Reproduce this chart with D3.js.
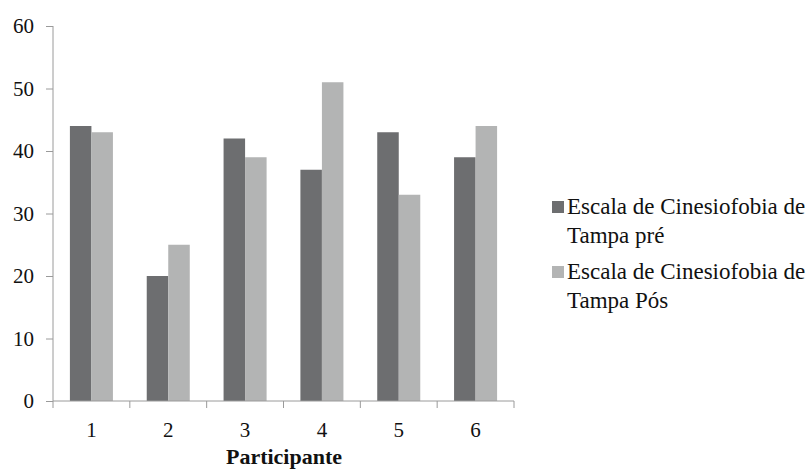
<!DOCTYPE html>
<html><head><meta charset="utf-8">
<script src="https://cdn.jsdelivr.net/npm/d3@7"></script>
<style>body{margin:0;background:#fff}svg{display:block}</style>
</head><body><svg id="c" width="810" height="470"></svg>
<script>
const categories = ["1","2","3","4","5","6"];
const seriesNames = ["Escala de Cinesiofobia de Tampa pré","Escala de Cinesiofobia de Tampa Pós"];
const preValues = [44,20,42,37,43,39];
const posValues = [43,25,39,51,33,44];
const yTicks = [0,10,20,30,40,50,60];
const colors = ["#6d6e70","#b3b4b4"];
const FONT = "Liberation Serif";

const svg = d3.select("#c");
const m = {l:53, r:296, t:26, b:69};
const W = 810 - m.l - m.r, H = 470 - m.t - m.b;
const g = svg.append("g").attr("transform",`translate(${m.l},${m.t})`);
const x = d3.scaleBand().domain(categories).range([0,W]).paddingInner(0.44).paddingOuter(0.22);
const x1 = d3.scaleBand().domain([0,1]).range([0,x.bandwidth()]);
const y = d3.scaleLinear().domain([0,60]).range([H,0]);

const data = categories.map((c,i)=>({c, v:[preValues[i],posValues[i]]}));
const grp = g.selectAll(".grp").data(data).join("g").attr("transform",d=>`translate(${x(d.c)},0)`);
grp.selectAll("rect").data(d=>d.v.map((v,k)=>({v,k}))).join("rect")
  .attr("x",d=>x1(d.k)).attr("width",x1.bandwidth())
  .attr("y",d=>y(d.v)).attr("height",d=>H-y(d.v)).attr("fill",d=>colors[d.k]);

const axisColor = "#9a9a9a";
const ya = g.append("g").call(d3.axisLeft(y).tickValues(yTicks).tickSize(7).tickPadding(12));
ya.attr("font-family",FONT).attr("font-size",21);
ya.selectAll("path,line").attr("stroke",axisColor);
ya.selectAll("text").attr("fill","#111");
ya.select(".domain").attr("d",`M0,0V${H}`);

const step = x.step();
const xa = g.append("g").attr("transform",`translate(0,${H})`).attr("font-family",FONT).attr("font-size",21);
xa.append("line").attr("x1",0).attr("x2",W).attr("stroke",axisColor);
const edges = d3.range(categories.length+1).map(i=>i*step);
xa.selectAll(".tk").data(edges).join("line").attr("x1",d=>d).attr("x2",d=>d).attr("y1",0).attr("y2",7).attr("stroke",axisColor);
xa.selectAll(".lb").data(categories).join("text").attr("x",d=>x(d)+x.bandwidth()/2).attr("y",36)
  .attr("text-anchor","middle").attr("fill","#111").text(d=>d);

svg.append("text").attr("x",284).attr("y",464).attr("text-anchor","middle")
  .attr("font-family",FONT).attr("font-size",22).attr("font-weight","bold").attr("fill","#111").text("Participante");

const leg = svg.append("g").attr("transform","translate(552,0)").attr("font-family",FONT).attr("font-size",23);
const legLines = [["Escala de Cinesiofobia de","Tampa pré"],["Escala de Cinesiofobia de","Tampa Pós"]];
const legY = [214,279];
legLines.forEach((ls,i)=>{
  leg.append("rect").attr("x",0).attr("y",legY[i]-13).attr("width",12).attr("height",12).attr("fill",colors[i]);
  const t = leg.append("text").attr("x",15).attr("y",legY[i]).attr("fill","#111");
  ls.forEach((s,j)=>t.append("tspan").attr("x",15).attr("dy",j?28.5:0).text(s));
});
</script></body></html>
